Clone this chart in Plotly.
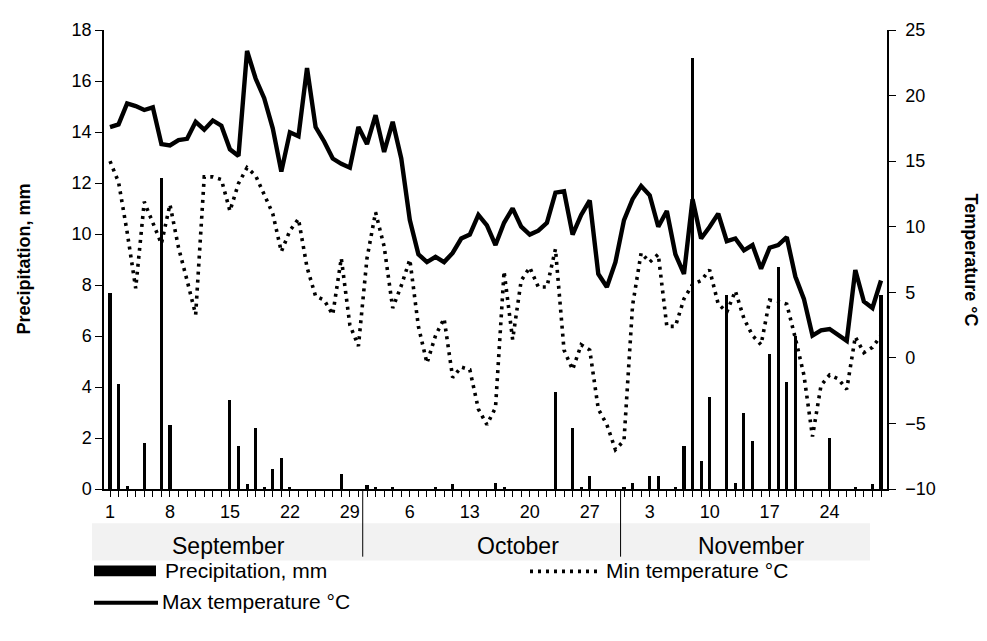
import plotly.graph_objects as go

# ---------------- data ----------------
days = list(range(1, 92))  # 1 Sep .. 30 Nov

precip_mm = [
    7.7, 4.1, 0.1, 0, 1.8, 0, 12.2, 2.5, 0, 0,
    0, 0, 0, 0, 3.5, 1.7, 0.2, 2.4, 0.05, 0.8,
    1.2, 0.05, 0, 0, 0, 0, 0, 0.6, 0, 0,
    0.15, 0.05, 0, 0.05, 0, 0, 0, 0, 0.05, 0,
    0.2, 0, 0, 0, 0, 0.25, 0.05, 0, 0, 0,
    0, 0, 3.8, 0, 2.4, 0.05, 0.5, 0, 0, 0,
    0.05, 0.25, 0, 0.5, 0.5, 0, 0.05, 1.7, 16.9, 1.1,
    3.6, 0, 7.6, 0.25, 3.0, 1.9, 0, 5.3, 8.7, 4.2,
    6.0, 0, 0, 0, 2.0, 0, 0, 0.05, 0, 0.2,
    7.6,
]

max_temp = [
    17.6, 17.8, 19.4, 19.2, 18.9, 19.1, 16.3, 16.2, 16.6, 16.7,
    18.0, 17.4, 18.1, 17.7, 15.9, 15.4, 23.4, 21.3, 19.8, 17.5,
    14.2, 17.2, 16.9, 22.1, 17.6, 16.5, 15.2, 14.8, 14.5, 17.6,
    16.3, 18.5, 15.7, 18.0, 15.2, 10.5, 7.9, 7.3, 7.7, 7.3,
    8.0, 9.1, 9.4, 10.9, 10.1, 8.6, 10.3, 11.4, 10.0, 9.4,
    9.7, 10.3, 12.6, 12.7, 9.4, 10.9, 12.0, 6.4, 5.4, 7.3,
    10.5, 12.1, 13.1, 12.4, 10.0, 11.2, 7.9, 6.4, 12.1, 9.1,
    10.0, 11.0, 8.9, 9.1, 8.2, 8.6, 6.8, 8.4, 8.6, 9.2,
    6.2, 4.5, 1.7, 2.1, 2.2, 1.7, 1.3, 6.7, 4.3, 3.8,
    5.9,
]

min_temp = [
    15.0, 13.4, 9.6, 5.3, 11.9, 10.3, 8.7, 11.7, 8.4, 5.9,
    3.3, 13.8, 13.8, 13.6, 11.2, 13.3, 14.5, 13.9, 12.4, 11.0,
    8.1, 9.7, 10.6, 6.9, 4.7, 4.4, 3.3, 7.6, 2.5, 0.9,
    7.6, 11.1, 8.5, 3.8, 5.5, 7.5, 2.4, -0.4, 1.7, 3.0,
    -1.5, -0.7, -0.9, -3.9, -5.1, -3.8, 6.6, 1.4, 5.9, 6.9,
    5.4, 5.4, 8.3, 0.6, -0.9, 1.0, 0.6, -3.9, -5.1, -7.0,
    -6.3, 4.0, 8.0, 7.3, 7.9, 2.4, 2.4, 4.5, 5.6, 5.9,
    6.7, 4.1, 3.5, 5.1, 3.0, 1.7, 1.0, 4.4, 4.3, 4.1,
    1.5, -1.3, -6.0, -2.1, -1.3, -1.6, -2.4, 1.6, 0.4, 0.8,
    1.7,
]

tick_days = [1, 8, 15, 22, 29, 36, 43, 50, 57, 64, 71, 78, 85]
tick_labels = ["1", "8", "15", "22", "29", "6", "13", "20", "27", "3", "10", "17", "24"]
month_names = ["September", "October", "November"]
month_centers = [14.8, 48.6, 75.8]
month_breaks = [30.5, 60.6]

FONT = "Liberation Sans, Arial, sans-serif"

# one tick mark per day, labelled only on the weekly tick days
label_of = dict(zip(tick_days, tick_labels))
all_ticktext = [label_of.get(d, "") for d in days]

# ---------------- figure ----------------
# page body has an 8px margin, so the figure is offset by 8px in the window
OFF = 8
W, H = 987 - OFF, 641 - OFF
L, R, T, B = 104 - OFF, 100, 21 - OFF, 152
PW, PH = W - L - R, H - T - B


def px(xw):  # window x pixel -> paper
    return (xw - OFF - L) / PW


def py(yw):  # window y pixel -> paper
    return (H - B - (yw - OFF)) / PH


fig = go.Figure()

fig.add_trace(go.Bar(
    x=days, y=precip_mm, width=0.36,
    marker=dict(color="black", line=dict(width=0)),
    name="Precipitation, mm", yaxis="y", showlegend=False,
))
fig.add_trace(go.Scatter(
    x=days, y=min_temp, mode="lines",
    line=dict(color="black", width=3.6, dash="3px,5px"),
    name="Min temperature °C", yaxis="y2", showlegend=False,
))
fig.add_trace(go.Scatter(
    x=days, y=max_temp, mode="lines",
    line=dict(color="black", width=4.4),
    name="Max temperature °C", yaxis="y2", showlegend=False,
))

shapes = []
annotations = []

# grey band behind month names
shapes.append(dict(type="rect", xref="paper", yref="paper",
                   x0=px(92), x1=px(870), y0=py(562), y1=py(524),
                   fillcolor="#f2f2f2", line=dict(width=0), layer="below"))
# month separators
for xb in month_breaks:
    shapes.append(dict(type="line", xref="x", yref="paper",
                       x0=xb, x1=xb, y0=0, y1=py(558),
                       line=dict(color="black", width=1)))
for name, c in zip(month_names, month_centers):
    annotations.append(dict(x=c, y=py(547), xref="x", yref="paper",
                            text=name, showarrow=False,
                            xanchor="center", yanchor="middle",
                            font=dict(family=FONT, size=23, color="black")))

# legend (manual)
shapes.append(dict(type="rect", xref="paper", yref="paper",
                   x0=px(94), x1=px(156), y0=py(578), y1=py(567),
                   fillcolor="black", line=dict(width=0)))
annotations.append(dict(x=px(163), y=py(572), xref="paper", yref="paper",
                        text="Precipitation, mm", showarrow=False,
                        xanchor="left", yanchor="middle",
                        font=dict(family=FONT, size=21, color="black")))
shapes.append(dict(type="line", xref="paper", yref="paper",
                   x0=px(530), x1=px(598), y0=py(573), y1=py(573),
                   line=dict(color="black", width=3.6, dash="3px,5px")))
annotations.append(dict(x=px(604), y=py(572), xref="paper", yref="paper",
                        text="Min temperature °C", showarrow=False,
                        xanchor="left", yanchor="middle",
                        font=dict(family=FONT, size=21, color="black")))
shapes.append(dict(type="line", xref="paper", yref="paper",
                   x0=px(94), x1=px(158), y0=py(605), y1=py(605),
                   line=dict(color="black", width=4)))
annotations.append(dict(x=px(160), y=py(604), xref="paper", yref="paper",
                        text="Max temperature °C", showarrow=False,
                        xanchor="left", yanchor="middle",
                        font=dict(family=FONT, size=21, color="black")))

# axis titles
annotations.append(dict(x=px(23), y=py(255), xref="paper", yref="paper",
                        text="<b>Precipitation, mm</b>", showarrow=False, textangle=-90,
                        xanchor="center", yanchor="middle",
                        font=dict(family=FONT, size=18, color="black")))
annotations.append(dict(x=px(971), y=py(255), xref="paper", yref="paper",
                        text="<b>Temperature °C</b>", showarrow=False, textangle=90,
                        xanchor="center", yanchor="middle",
                        font=dict(family=FONT, size=18, color="black")))

fig.update_layout(
    width=W, height=H,
    margin=dict(l=L, r=R, t=T, b=B),
    paper_bgcolor="white", plot_bgcolor="white",
    font=dict(family=FONT, size=18, color="black"),
    showlegend=False,
    bargap=0,
    xaxis=dict(
        range=[0.3, 91.7],
        tickmode="array", tickvals=days, ticktext=all_ticktext,
        ticks="outside", ticklen=6, tickwidth=1, tickcolor="black",
        showline=True, linecolor="black", linewidth=1.5,
        showgrid=False, zeroline=False,
        tickfont=dict(family=FONT, size=18),
    ),
    yaxis=dict(
        range=[0, 18], dtick=2,
        ticks="outside", ticklen=7, tickcolor="black",
        showline=True, linecolor="black", linewidth=1.5,
        showgrid=False, zeroline=False,
        tickfont=dict(family=FONT, size=18),
    ),
    yaxis2=dict(
        range=[-10, 25], dtick=5, overlaying="y", side="right",
        ticks="outside", ticklen=7, tickcolor="black",
        ticklabelstandoff=6,
        showline=True, linecolor="black", linewidth=1.5,
        showgrid=False, zeroline=False,
        tickfont=dict(family=FONT, size=18),
    ),
    shapes=shapes,
    annotations=annotations,
)

fig.write_html("out.html")
